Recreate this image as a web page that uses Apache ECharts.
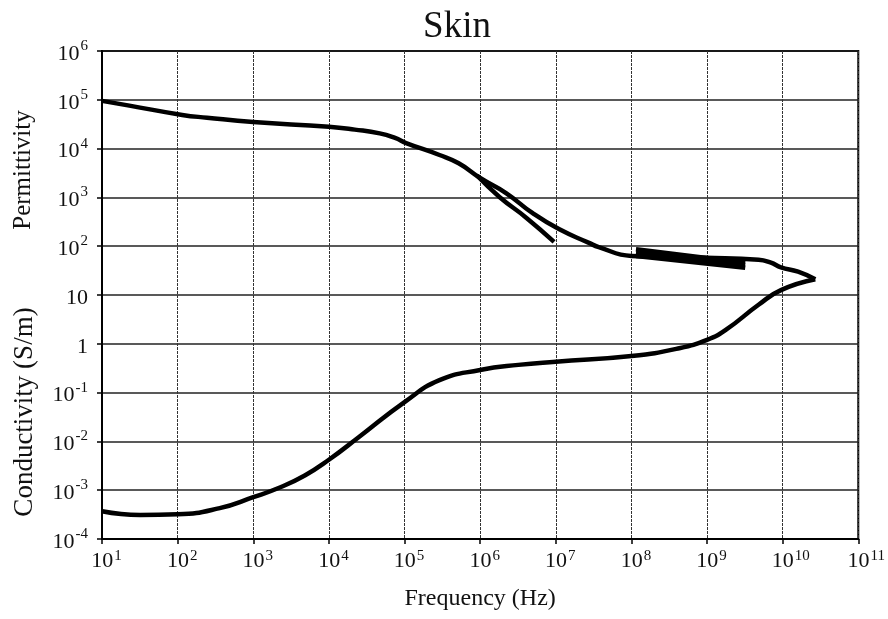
<!DOCTYPE html>
<html>
<head>
<meta charset="utf-8">
<script src="https://cdn.jsdelivr.net/npm/echarts@6/dist/echarts.min.js"></script>
<style>
  html, body { margin: 0; padding: 0; background: #fff; }
  #chart { width: 888px; height: 619px; }
</style>
</head>
<body>
<div id="chart"></div>
<script>
// Skin dielectric properties versus frequency (log-log)

// Permittivity, main dispersion curve
const permFreq = [10, 23, 115, 245, 1e3, 1e4, 2.2e4, 4.7e4, 7.5e4, 1.05e5, 2.9e5, 5.2e5, 1e6, 2.2e6, 4.9e6, 1.1e7, 2.75e7, 3.7e7, 1e8, 9.5e8, 4.8e9, 7e9, 9.5e9, 1.6e10, 2.7e10];
const permValues = [9.5e4, 7.6e4, 4.9e4, 4.3e4, 3.5e4, 2.8e4, 2.45e4, 2.05e4, 1.65e4, 1.3e4, 7.4e3, 5.0e3, 2.5e3, 1.23e3, 480, 224, 117, 96, 63, 58, 53, 46, 37, 30, 21];

// Permittivity, secondary branch around 1-10 MHz
const branchFreq = [9.1e5, 1.8e6, 4.1e6, 9.5e6];
const branchValues = [2.8e3, 1.02e3, 380, 123];

// Permittivity, scattered measurements 0.1-3 GHz
const ghzFreq = [1.15e8, 3.2e9];
const ghzUpper = [87, 46];
const ghzMiddle = [74, 41];
const ghzLower = [63, 36];

// Conductivity (S/m)
const condFreq = [10, 32, 100, 360, 1e3, 2.2e3, 4.8e3, 1e4, 2.5e4, 1e5, 2.9e5, 1e6, 3.2e6, 1e7, 1e8, 4.3e8, 1e9, 1.75e9, 4.8e9, 9.5e9, 2.7e10];
const condValues = [3.7e-4, 3.1e-4, 3.2e-4, 4.3e-4, 7.2e-4, 1.12e-3, 2.0e-3, 4.2e-3, 1.23e-2, 6.4e-2, 0.18, 0.29, 0.37, 0.43, 0.56, 0.81, 1.2, 1.9, 6.3, 12.6, 21];

// Tick labels (decade exponents)
const xTickExponents = [1, 2, 3, 4, 5, 6, 7, 8, 9, 10, 11];
const yTickExponents = [-4, -3, -2, -1, 0, 1, 2, 3, 4, 5, 6];

const pairs = (xs, ys) => xs.map((x, i) => [x, ys[i]]);

// x labels keep the mantissa "10" centred on the tick; the exponent hangs to the right
function xLabel(value) {
  const e = Math.round(Math.log10(value));
  const pad = String(e).length > 1 ? 'w' : 'n';
  return '{' + pad + '|10}{s|' + e + '}';
}

function yLabel(value) {
  const e = Math.round(Math.log10(value));
  if (e === 0) return '{b|1}';
  if (e === 1) return '{b|10}';
  return '{b|10}{s|' + e + '}';
}

const serif = '"Liberation Serif", "DejaVu Serif", serif';
const sup = { fontSize: 15, fontFamily: serif, color: '#111', padding: [0, 0, 10, 1] };
const xRich = {
  n: { fontSize: 22, fontFamily: serif, color: '#111', padding: [0, 0, 0, 9] },
  w: { fontSize: 22, fontFamily: serif, color: '#111', padding: [0, 0, 0, 16] },
  s: sup
};
const yRich = {
  b: { fontSize: 22, fontFamily: serif, color: '#111', padding: [6, 0, 0, 0] },
  s: sup
};

const curveStyle = { color: '#000', width: 4.5 };
const lineSeries = (name, data) => ({
  name, type: 'line', data, symbol: 'none', smooth: 0.5,
  lineStyle: curveStyle, z: 5
});

const chart = echarts.init(document.getElementById('chart'), null, { renderer: 'canvas' });
chart.setOption({
  animation: false,
  backgroundColor: '#fff',
  title: {
    text: 'Skin', left: 452, top: 4, textAlign: 'center',
    textStyle: { fontFamily: serif, fontSize: 37, fontWeight: 'normal', color: '#111' }
  },
  grid: { left: 102, right: 28, top: 51, bottom: 80, show: true, borderColor: '#000', borderWidth: 2 },
  xAxis: {
    type: 'log', logBase: 10, min: 10, max: 1e11, interval: 1,
    name: 'Frequency (Hz)', nameLocation: 'middle', nameGap: 48,
    nameTextStyle: { fontFamily: serif, fontSize: 24, color: '#111' },
    axisLine: { lineStyle: { color: '#000', width: 2 } },
    axisTick: { show: true, inside: false, length: 5, lineStyle: { color: '#000', width: 1.5 } },
    axisLabel: {
      margin: 10,
      formatter: v => xTickExponents.includes(Math.round(Math.log10(v))) ? xLabel(v) : '',
      rich: xRich
    },
    splitLine: { show: true, lineStyle: { color: '#333', width: 1, type: [3, 1] } },
    minorTick: { show: false }
  },
  yAxis: {
    type: 'log', logBase: 10, min: 1e-4, max: 1e6, interval: 1,
    axisLine: { lineStyle: { color: '#000', width: 2 } },
    axisTick: { show: true, inside: false, length: 5, lineStyle: { color: '#000', width: 1.5 } },
    axisLabel: {
      margin: 14,
      formatter: v => yTickExponents.includes(Math.round(Math.log10(v))) ? yLabel(v) : '',
      rich: yRich
    },
    splitLine: { show: true, lineStyle: { color: '#222', width: 1.5 } }
  },
  // Rotated axis titles for the two quantities sharing the y axis
  graphic: [
    {
      type: 'text', x: 23, y: 170, rotation: Math.PI / 2,
      style: { text: 'Permittivity', font: '25px ' + serif, fill: '#111', align: 'center', verticalAlign: 'middle' }
    },
    {
      type: 'text', x: 25, y: 412, rotation: Math.PI / 2,
      style: { text: 'Conductivity (S/m)', font: '27px ' + serif, fill: '#111', align: 'center', verticalAlign: 'middle' }
    }
  ],
  series: [
    lineSeries('permittivity', pairs(permFreq, permValues)),
    lineSeries('branch', pairs(branchFreq, branchValues)),
    lineSeries('ghzUpper', pairs(ghzFreq, ghzUpper)),
    lineSeries('ghzMiddle', pairs(ghzFreq, ghzMiddle)),
    lineSeries('ghzLower', pairs(ghzFreq, ghzLower)),
    lineSeries('conductivity', pairs(condFreq, condValues))
  ]
});
</script>
</body>
</html>
